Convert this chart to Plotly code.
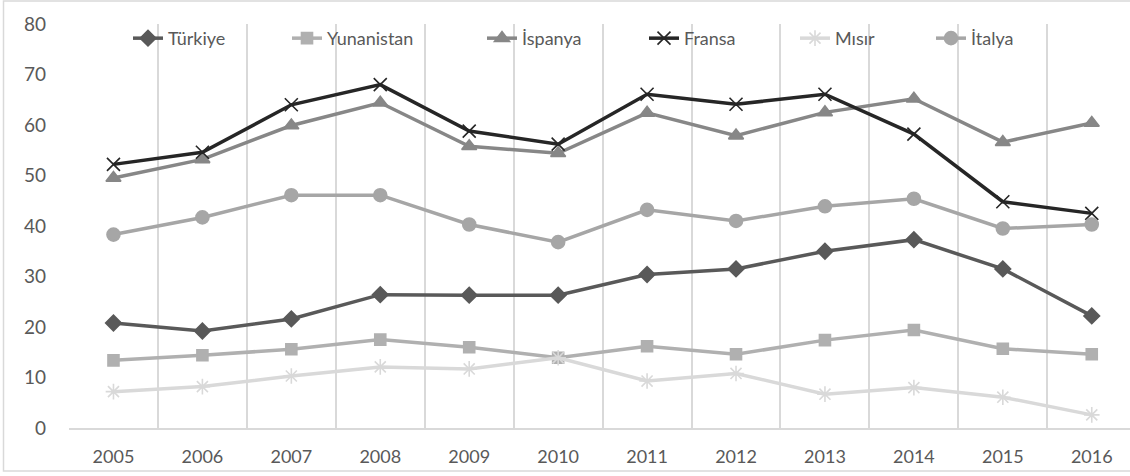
import plotly.graph_objects as go

# ─── Data ────────────────────────────────────────────────────────────────────
YEARS = ["2005", "2006", "2007", "2008", "2009", "2010",
         "2011", "2012", "2013", "2014", "2015", "2016"]

TURKIYE    = [20.8, 19.2, 21.6, 26.4, 26.3, 26.3, 30.4, 31.5, 35.0, 37.3, 31.5, 22.2]
YUNANISTAN = [13.4, 14.4, 15.6, 17.5, 16.0, 13.9, 16.2, 14.6, 17.4, 19.4, 15.7, 14.6]
ISPANYA    = [49.5, 53.2, 59.9, 64.4, 55.8, 54.4, 62.4, 57.9, 62.5, 65.2, 56.6, 60.4]
FRANSA     = [52.2, 54.6, 64.0, 68.0, 58.8, 56.2, 66.1, 64.1, 66.1, 58.2, 44.8, 42.5]
MISIR      = [7.2, 8.2, 10.3, 12.1, 11.7, 13.9, 9.3, 10.8, 6.7, 8.0, 6.1, 2.6]
ITALYA     = [38.3, 41.7, 46.1, 46.1, 40.3, 36.8, 43.2, 41.0, 43.9, 45.4, 39.5, 40.3]

Y_TICKS = [0, 10, 20, 30, 40, 50, 60, 70, 80]

# ─── Styles ──────────────────────────────────────────────────────────────────
TEXT_COLOR = "#595959"
GRID_COLOR = "#d9d9d9"
FONT       = "Lato, Open Sans, sans-serif"

SERIES = [
    ("Türkiye",    TURKIYE,    "#595959", "diamond",        12),
    ("Yunanistan", YUNANISTAN, "#b0b0b0", "square",         11),
    ("İspanya",    ISPANYA,    "#878787", "triangle-up",    13),
    ("Fransa",     FRANSA,     "#262626", "x-thin-open",    13),
    ("Mısır",      MISIR,      "#d9d9d9", "asterisk-open",  13),
    ("İtalya",     ITALYA,     "#a6a6a6", "circle",         13),
]

# pixel geometry
W, H = 1130, 476
ML, MR, MT, MB = 69, 0, 24, 48
PW, PH = W - ML - MR, H - MT - MB
LEGEND_PX = [116, 275, 470, 632, 783, 919]   # left edge of each legend entry

fig = go.Figure()
legends = {}
for i, (name, values, color, symbol, size) in enumerate(SERIES):
    key = "legend" if i == 0 else f"legend{i + 1}"
    fig.add_trace(go.Scatter(
        x=YEARS, y=values,
        mode="lines+markers", name=name,
        line=dict(color=color, width=3.5),
        marker=dict(symbol=symbol, size=size, color=color,
                    line=dict(color=color, width=1.6)),
        legend=key,
    ))
    legends[key] = dict(
        x=(LEGEND_PX[i] + 12 - ML) / PW, y=1.01,
        xanchor="left", yanchor="top",
        font=dict(size=18, color=TEXT_COLOR, family=FONT),
        bgcolor="rgba(0,0,0,0)", borderwidth=0,
    )

# outer frame (right edge falls outside the picture, as in the source)
fig.add_shape(
    type="rect", xref="paper", yref="paper",
    x0=(3.5 - ML) / PW, x1=(W + 20 - ML) / PW,
    y0=-(MB - 5) / PH, y1=(PH + MT - 1) / PH,
    line=dict(color=GRID_COLOR, width=1.5), layer="above",
)

fig.update_layout(
    width=W, height=H,
    paper_bgcolor="white",
    plot_bgcolor="white",
    font=dict(family=FONT, color=TEXT_COLOR, size=18),
    margin=dict(l=ML, r=MR, t=MT, b=MB, autoexpand=False),
    showlegend=True,
    xaxis=dict(
        type="category", tickson="boundaries",
        range=[-0.5, 11.43],
        showgrid=True, gridcolor=GRID_COLOR, gridwidth=1.5,
        showline=True, linecolor=GRID_COLOR, linewidth=1.5,
        ticks="", tickfont=dict(size=18, color=TEXT_COLOR),
        ticklabelstandoff=12, automargin=False,
    ),
    yaxis=dict(
        range=[0, 80], tickvals=Y_TICKS,
        showgrid=False, zeroline=False, showline=False,
        ticks="", tickfont=dict(size=19, color=TEXT_COLOR),
        ticklabelstandoff=22, automargin=False,
    ),
    **legends,
)

# drop the browser's default body margin so the figure sits at (0, 0)
fig.write_html(
    "out.html",
    config={"displayModeBar": False},
    post_script="document.body.style.margin = '0';",
)
